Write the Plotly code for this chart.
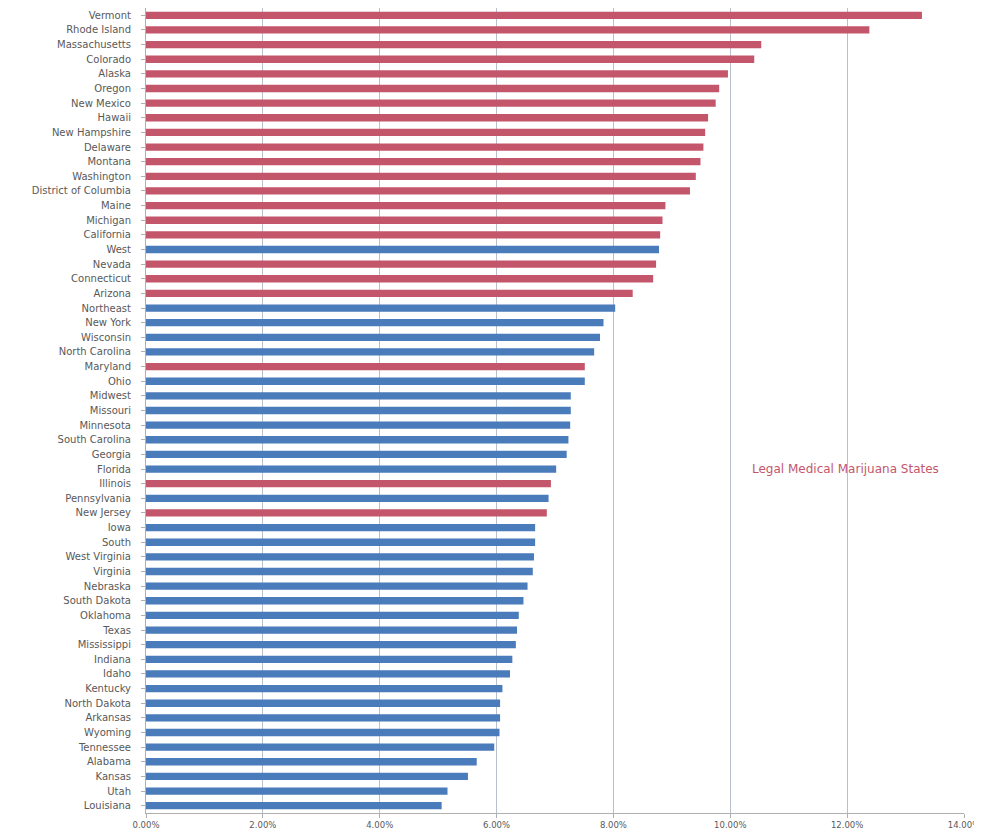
import plotly.graph_objects as go

states = ["Vermont", "Rhode Island", "Massachusetts", "Colorado", "Alaska", "Oregon",
          "New Mexico", "Hawaii", "New Hampshire", "Delaware", "Montana", "Washington",
          "District of Columbia", "Maine", "Michigan", "California", "West", "Nevada",
          "Connecticut", "Arizona", "Northeast", "New York", "Wisconsin", "North Carolina",
          "Maryland", "Ohio", "Midwest", "Missouri", "Minnesota", "South Carolina",
          "Georgia", "Florida", "Illinois", "Pennsylvania", "New Jersey", "Iowa", "South",
          "West Virginia", "Virginia", "Nebraska", "South Dakota", "Oklahoma", "Texas",
          "Mississippi", "Indiana", "Idaho", "Kentucky", "North Dakota", "Arkansas",
          "Wyoming", "Tennessee", "Alabama", "Kansas", "Utah", "Louisiana"]

rates = [13.28, 12.38, 10.53, 10.41, 9.96, 9.81, 9.75, 9.62, 9.57, 9.54, 9.49, 9.41,
         9.31, 8.89, 8.84, 8.80, 8.78, 8.73, 8.68, 8.33, 8.03, 7.83, 7.77, 7.67,
         7.51, 7.51, 7.27, 7.27, 7.26, 7.23, 7.20, 7.02, 6.93, 6.89, 6.86, 6.66, 6.66,
         6.64, 6.62, 6.53, 6.46, 6.38, 6.35, 6.33, 6.27, 6.23, 6.10, 6.06, 6.06,
         6.05, 5.96, 5.66, 5.51, 5.16, 5.06]

medical_legal = ["Vermont", "Rhode Island", "Massachusetts", "Colorado", "Alaska", "Oregon",
                 "New Mexico", "Hawaii", "New Hampshire", "Delaware", "Montana", "Washington",
                 "District of Columbia", "Maine", "Michigan", "California", "Nevada",
                 "Connecticut", "Arizona", "Maryland", "Illinois", "New Jersey"]

x_ticks = [0, 0.02, 0.04, 0.06, 0.08, 0.10, 0.12, 0.14]

RED = "#C4566B"
BLUE = "#4A7BBA"

values = [r / 100 for r in rates]
colors = [RED if s in medical_legal else BLUE for s in states]

fig = go.Figure()
fig.add_trace(go.Bar(
    x=values, y=states, orientation="h",
    marker=dict(color=colors, line=dict(width=0)),
    showlegend=False,
))

fig.add_annotation(
    x=0.1198, y="Florida", xref="x", yref="y",
    text="Legal Medical Marijuana States", showarrow=False,
    font=dict(family="DejaVu Sans, sans-serif", size=12, color="#C4566B"),
)

# page body has an 8px default margin, so the figure is sized/offset accordingly
fig.update_layout(
    width=982, height=828,
    margin=dict(l=138, r=26, t=0, b=23),
    paper_bgcolor="white", plot_bgcolor="white",
    bargap=0.5,
    font=dict(family="DejaVu Sans, sans-serif", size=10, color="#595959"),
)

fig.update_xaxes(
    range=[0, 0.14], tickvals=x_ticks, tickformat=".2%",
    showgrid=True, gridcolor="#B8C0CC", gridwidth=1,
    showline=True, linecolor="#B0B0B0", ticks="outside", ticklen=4, tickcolor="#B0B0B0",
    zeroline=False, tickfont=dict(size=8.5), automargin=False,
)
fig.update_yaxes(
    autorange="reversed", showgrid=False,
    showline=True, linecolor="#B0B0B0", ticks="outside", ticklen=4, tickcolor="#B0B0B0",
    tickfont=dict(size=10), ticklabelstandoff=8, automargin=False,
)

fig.write_html("out.html")
